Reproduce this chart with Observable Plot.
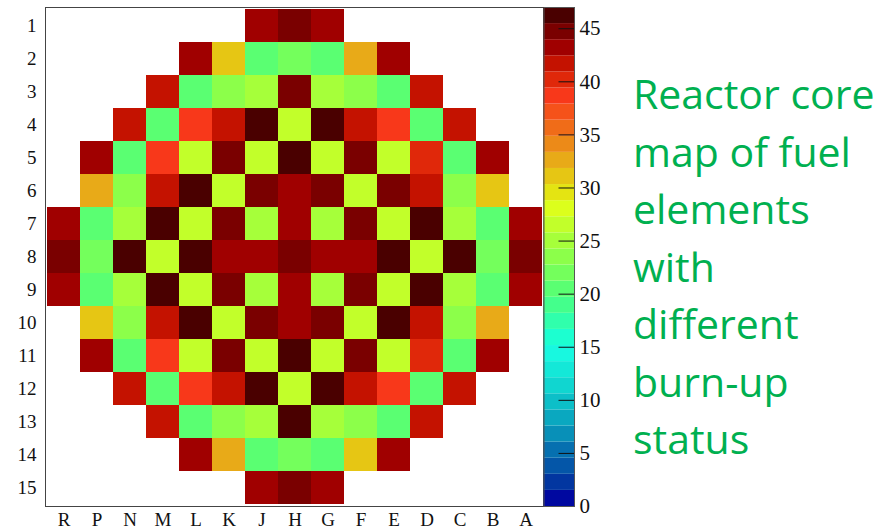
<!DOCTYPE html>
<html>
<head>
<meta charset="utf-8">
<script src="https://cdn.jsdelivr.net/npm/d3@7"></script>
<script src="https://cdn.jsdelivr.net/npm/@observablehq/plot@0.6"></script>
<style>
  body { margin: 0; background: #fff; }
  #chart { position: relative; width: 892px; height: 530px; overflow: hidden; }
  #chart > div { position: absolute; top: 0; }
  #core { left: 0; }
  #bar { left: 543px; }
  #note {
    left: 633px; top: 65px !important;
    font-family: "Open Sans", sans-serif; font-size: 41px; line-height: 57.5px;
    color: #00b050; white-space: nowrap;
  }
</style>
</head>
<body>
<div id="chart">
  <div id="core"></div>
  <div id="bar"></div>
  <div id="note">Reactor core<br>map of fuel<br>elements<br>with<br>different<br>burn-up<br>status</div>
</div>
<script>
// Fuel assembly positions: columns R..A, rows 1..15
const columns = ["R", "P", "N", "M", "L", "K", "J", "H", "G", "F", "E", "D", "C", "B", "A"];
const rows = [1, 2, 3, 4, 5, 6, 7, 8, 9, 10, 11, 12, 13, 14, 15];

// Burn-up per position (null = no fuel element)
const _ = null;
const burnup = [
  [_, _, _, _, _, _, 43.2, 44.7, 43.2, _, _, _, _, _, _],
  [_, _, _, _, 43.2, 31.1, 20.5, 22.0, 20.5, 32.6, 43.2, _, _, _, _],
  [_, _, _, 41.7, 20.5, 23.5, 25.0, 44.7, 25.0, 23.5, 20.5, 41.7, _, _, _],
  [_, _, 41.7, 20.5, 38.7, 41.7, 46.2, 26.5, 46.2, 41.7, 38.7, 20.5, 41.7, _, _],
  [_, 43.2, 20.5, 38.7, 26.5, 44.7, 26.5, 46.2, 26.5, 44.7, 26.5, 40.2, 20.5, 43.2, _],
  [_, 32.6, 23.5, 41.7, 46.2, 26.5, 44.7, 43.2, 44.7, 26.5, 44.7, 41.7, 23.5, 31.1, _],
  [43.2, 20.5, 25.0, 46.2, 26.5, 44.7, 25.0, 43.2, 25.0, 44.7, 26.5, 46.2, 25.0, 20.5, 43.2],
  [44.7, 22.0, 46.2, 26.5, 46.2, 43.2, 43.2, 44.7, 43.2, 43.2, 46.2, 26.5, 46.2, 22.0, 44.7],
  [43.2, 20.5, 25.0, 46.2, 26.5, 44.7, 25.0, 43.2, 25.0, 44.7, 26.5, 46.2, 25.0, 20.5, 43.2],
  [_, 31.1, 23.5, 41.7, 46.2, 26.5, 44.7, 43.2, 44.7, 26.5, 46.2, 41.7, 23.5, 32.6, _],
  [_, 43.2, 20.5, 38.7, 26.5, 44.7, 26.5, 46.2, 26.5, 44.7, 26.5, 40.2, 20.5, 43.2, _],
  [_, _, 41.7, 20.5, 38.7, 41.7, 46.2, 26.5, 46.2, 41.7, 38.7, 20.5, 41.7, _, _],
  [_, _, _, 41.7, 20.5, 23.5, 25.0, 46.2, 25.0, 23.5, 20.5, 41.7, _, _, _],
  [_, _, _, _, 43.2, 32.6, 20.5, 22.0, 20.5, 31.1, 43.2, _, _, _, _],
  [_, _, _, _, _, _, 43.2, 44.7, 43.2, _, _, _, _, _, _]
];

// Discrete palette, lowest band first
const palette = [
  "#0008a0", "#0236a0", "#0456a8", "#0670b0", "#0890b8", "#0aa8c0", "#0cbfc8", "#10d6d0",
  "#14e8d8", "#18f8e0", "#1cffd0", "#30ffac", "#44ff8c", "#5aff72", "#74ff5c", "#8cff4a",
  "#a6ff3a", "#c2ff2a", "#dcff1c", "#e4e412", "#e6c614", "#e8aa18", "#ec8a18", "#f06c18",
  "#f5521a", "#f8381a", "#e0280a", "#c41200", "#a00000", "#7a0000", "#4a0000"
];
const zMax = 47;
const colorTicks = [0, 5, 10, 15, 20, 25, 30, 35, 40, 45];

// Equal-width bands from 0 to zMax, one per palette colour
const step = zMax / palette.length;
const thresholds = d3.range(1, palette.length).map(k => k * step);
const color = {type: "threshold", domain: thresholds, range: palette};

const cells = rows.flatMap((r, i) =>
  columns.map((c, j) => ({row: r, col: c, value: burnup[i][j]}))
).filter(d => d.value != null);

const serif = "'Liberation Serif', 'Times New Roman', serif";

const core = Plot.plot({
  width: 544, height: 530,
  marginLeft: 45, marginRight: 1, marginTop: 7, marginBottom: 24,
  style: {fontFamily: serif, fontSize: "19px", color: "#111", background: "transparent"},
  x: {type: "band", domain: columns, padding: 0},
  y: {type: "band", domain: rows, padding: 0},
  color,
  marks: [
    Plot.cell(cells, {x: "col", y: "row", fill: "value", inset: 0}),
    Plot.frame({stroke: "#444"}),
    Plot.axisX({anchor: "bottom", tickSize: 0, tickPadding: 6, label: null}),
    Plot.axisY({anchor: "left", tickSize: 0, tickPadding: 9, label: null})
  ]
});
document.getElementById("core").append(core);

// Vertical colour bar with ticks drawn inside its right half
const bands = palette.map((c, k) => ({lo: k * step, hi: (k + 1) * step}));
const bar = Plot.plot({
  width: 90, height: 530,
  marginLeft: 0.5, marginRight: 59, marginTop: 7, marginBottom: 24,
  style: {fontFamily: serif, fontSize: "21px", color: "#111", background: "transparent"},
  y: {domain: [0, zMax]},
  color,
  marks: [
    Plot.rect(bands, {y1: "lo", y2: "hi", fill: d => (d.lo + d.hi) / 2, inset: 0}),
    Plot.ruleY(colorTicks, {insetLeft: 15, stroke: "#111"}),
    Plot.frame({stroke: "#555"}),
    Plot.axisY({anchor: "right", ticks: colorTicks, tickSize: 0, tickPadding: 5, label: null})
  ]
});
document.getElementById("bar").append(bar);
</script>
</body>
</html>
